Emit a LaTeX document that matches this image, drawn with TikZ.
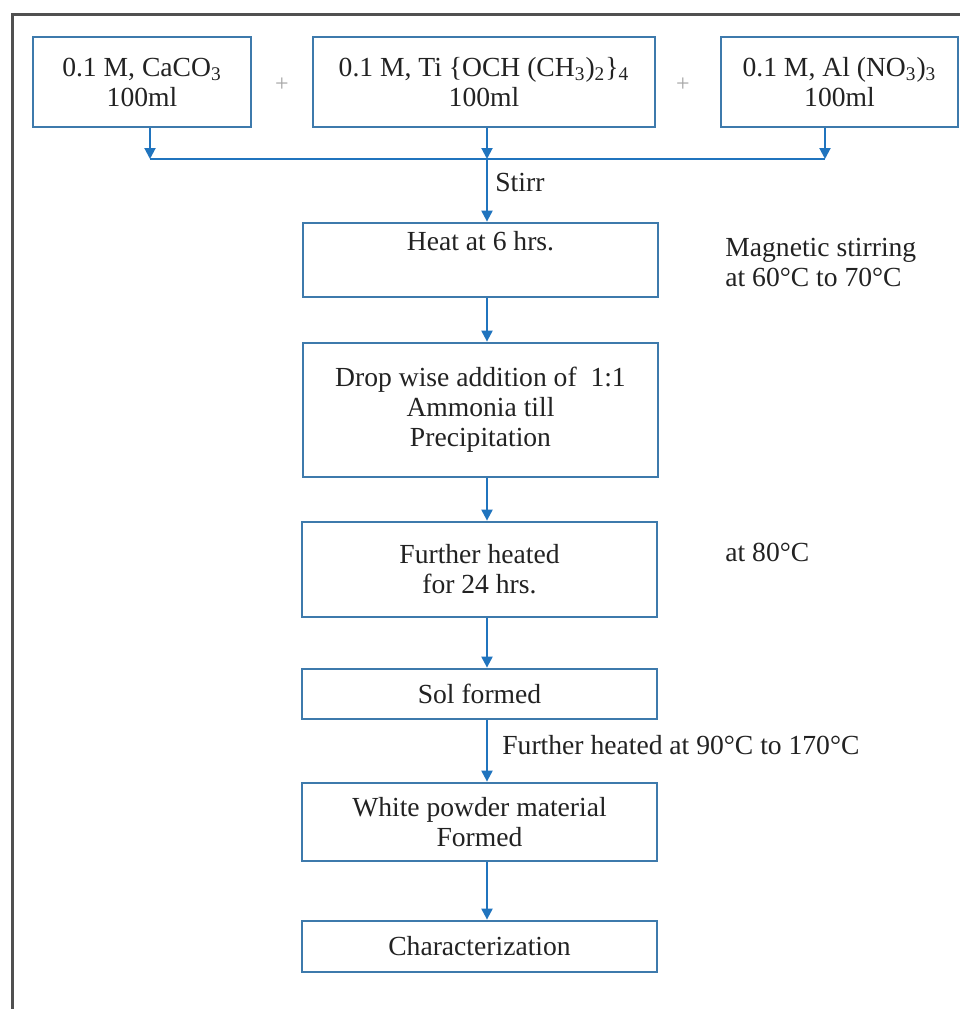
\documentclass[tikz,border=0pt]{standalone}
\usepackage{fontspec}
\setmainfont{Liberation Serif}
\usetikzlibrary{arrows.meta}
\definecolor{boxblue}{RGB}{62,122,172}
\definecolor{arrblue}{RGB}{32,116,190}
\definecolor{txt}{RGB}{34,34,34}
\definecolor{frame}{RGB}{80,80,80}
\begin{document}
\begin{tikzpicture}[x=0.5pt,y=-0.5pt,
  font=\fontsize{13.8}{15}\selectfont,
  every node/.style={text=txt, inner sep=0pt},
  box/.style={draw=boxblue, line width=1.4pt, fill=white, align=center},
  arr/.style={draw=arrblue, line width=1pt, -{Triangle[length=5.5pt,width=5.5pt]}},
  link/.style={draw=arrblue, line width=1pt},
  plus/.style={text=gray!70, font=\fontsize{12}{13}\selectfont}]
\useasboundingbox (0,0) rectangle (960,1009);
\fill[white] (0,0) rectangle (960,1009);
% outer frame (left and top edges visible)
\draw[frame, line width=1.5pt] (12,1015) -- (12,14) -- (965,14);

% top boxes
\node[box, minimum width=109pt, minimum height=45pt] (b1) at (142,82)
  {0.1 M, CaCO\textsubscript{3}\\100ml};
\node[box, minimum width=171pt, minimum height=45pt] (b2) at (484,82)
  {0.1 M, Ti \{OCH (CH\textsubscript{3})\textsubscript{2}\}\textsubscript{4}\\100ml};
\node[box, minimum width=118.5pt, minimum height=45pt] (b3) at (839.5,82)
  {0.1 M, Al (NO\textsubscript{3})\textsubscript{3}\\100ml};
\node[plus] (p1) at (282,85) {+};
\node[plus] (p2) at (683,85) {+};

% process boxes
\node[box, minimum width=177.5pt, minimum height=37pt] (heat) at (480.5,260)
  {Heat at 6 hrs.\\\strut};
\node[box, minimum width=177.5pt, minimum height=67pt] (drop) at (480.5,410)
  {Drop wise addition of~~1:1\\Ammonia till\\Precipitation};
\node[box, minimum width=177.5pt, minimum height=47.5pt] (further) at (479.5,569.5)
  {Further heated\\for 24 hrs.};
\node[box, minimum width=177.5pt, minimum height=25pt] (sol) at (479.5,694)
  {Sol formed};
\node[box, minimum width=177.5pt, minimum height=39pt] (white) at (479.5,822)
  {White powder material\\Formed};
\node[box, minimum width=177.5pt, minimum height=25.5pt] (char) at (479.5,946.5)
  {Characterization};

% side labels
\node[anchor=west] (stirr) at (495,182) {Stirr};
\node[anchor=west, align=left] (mag) at (725,262) {Magnetic stirring\\at 60°C to 70°C};
\node[anchor=west] (at80) at (725,552) {at 80°C};
\node[anchor=west] (fh) at (502,745) {Further heated at 90°C to 170°C};

% connectors
\coordinate (j1) at (150,159);
\coordinate (j2) at (487,159);
\coordinate (j3) at (825,159);
\draw[link] (j1) -- (j3);
\draw[arr] (b1.south -| j1) -- (j1);
\draw[arr] (b2.south -| j2) -- (j2);
\draw[arr] (b3.south -| j3) -- (j3);
\draw[arr] (j2) -- (heat.north -| j2);
\draw[arr] (heat.south -| j2) -- (drop.north -| j2);
\draw[arr] (drop.south -| j2) -- (further.north -| j2);
\draw[arr] (further.south -| j2) -- (sol.north -| j2);
\draw[arr] (sol.south -| j2) -- (white.north -| j2);
\draw[arr] (white.south -| j2) -- (char.north -| j2);
\end{tikzpicture}
\end{document}
